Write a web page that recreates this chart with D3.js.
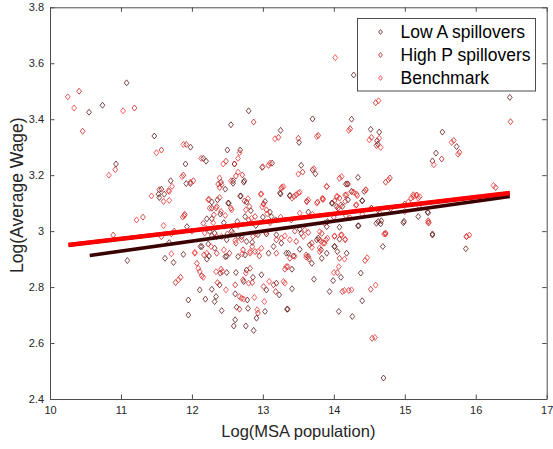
<!DOCTYPE html>
<html>
<head>
<meta charset="utf-8">
<script src="https://cdn.jsdelivr.net/npm/d3@7"></script>
<style>
  body { margin: 0; background: #fff; }
  svg { font-family: "Liberation Sans", Arial, sans-serif; }
  .tick text { font-size: 11px; fill: #262626; }
  .tick line, .domain { stroke: #4d4d4d; }
</style>
</head>
<body>
<div id="chart"></div>
<script>
// data: [log MSA population, log average wage]
var lowA = [
  [10.55,3.425],[10.74,3.45],[11.08,3.53],[10.93,3.24],[11.47,3.34],[11.57,3.15],[11.54,3.12],
  [11.70,3.18],[11.98,3.30],[11.91,3.24],[11.92,3.17],[11.98,3.17],[12.16,3.26],[12.20,3.25],
  [12.50,3.29],[12.55,3.38],[12.80,3.43],[12.60,3.24],[12.68,3.29],[12.58,3.18],[12.74,3.18],
  [12.99,3.228],[13.13,3.243],[13.25,3.36],[11.61,3.132],[11.53,3.132],[12.41,3.175],[12.47,3.15],
  [12.58,3.171],[12.73,3.175],[13.25,3.133],[13.03,3.106],[13.10,3.068],[12.77,3.104],[12.68,3.125],
  [12.83,3.073],[12.28,3.104],[12.36,3.112],[12.52,3.10],[12.40,3.061],[12.28,3.044],[12.21,3.044],
  [13.70,3.401],[14.25,3.40],[14.52,3.364],[14.64,3.354],[14.61,3.323],[14.62,3.311],[13.51,3.317],
  [15.53,3.354],[15.73,3.302],[15.44,3.279],[15.39,3.251],[13.54,3.235],[13.70,3.219],[13.74,3.205],
  [14.34,3.192],[14.17,3.168],[14.43,3.142],[14.25,3.142],[14.20,3.112],[13.38,3.128],[13.97,3.10],
  [14.04,3.088],[14.40,3.108],[15.32,3.068],[14.62,3.076],[14.67,3.037],[14.99,3.035],[13.64,3.068],
  [11.09,2.895],[11.62,2.903],[11.74,2.888],[11.88,2.917],[11.68,2.959],[12.12,2.945],[12.23,2.954],
  [12.32,2.939],[12.21,2.90],[12.24,2.911],[12.40,2.85],[12.11,2.79],[12.28,2.792],[12.19,2.757],
  [11.95,2.754],[11.95,2.70],[12.34,2.766],[12.32,2.748],[12.39,2.808],[12.42,2.716],[12.49,2.852],
  [12.47,2.909],[12.62,2.852],[12.61,2.776],[12.65,2.909],[12.75,2.915],[12.77,2.861],[12.73,2.82],
  [12.86,2.835],[12.79,2.724],[12.78,2.754],[12.63,2.728],[12.61,2.683],[12.59,2.661],[12.76,2.661],
  [12.87,2.645],[12.91,2.689],[13.03,2.713],[12.98,2.844],[13.05,2.79],[13.19,2.814],[13.23,2.772],
  [13.34,2.721],[13.26,2.957],[13.15,2.945],[11.93,3.016],[13.52,3.007],[13.54,2.992],[13.78,2.975],
  [14.08,2.971],[14.08,3.014],[14.35,3.019],[14.60,3.028],[14.66,3.026],[15.39,2.986],[14.69,2.945],
  [13.52,2.935],[13.66,2.951],[13.36,2.921],[13.43,2.911],[13.64,2.909],[13.69,2.885],[13.82,2.933],
  [13.83,2.903],[13.90,2.921],[14.01,2.945],[14.05,2.927],[14.18,2.921],[14.10,2.835],[13.99,2.823],
  [14.38,2.85],[13.41,2.864],[13.72,2.828],[13.41,2.794],[13.94,2.784],[14.40,2.751],[13.35,2.721],
  [14.07,2.713],[14.26,2.695],[14.70,2.475],[15.86,2.937],[16.48,3.478],[14.28,3.558],
  [12.56,3.00],[12.70,2.98],[12.90,3.02],[13.05,2.99],[13.18,3.04],[12.45,3.03],[12.85,2.96],[13.00,3.05],
  [12.28,3.082],[12.51,3.10],[12.69,3.126],[12.64,3.034],[12.75,3.052],[13.12,3.052],[13.24,3.136],
  [13.38,3.126],[13.91,3.034],[12.25,2.999],[12.32,2.993],[12.49,2.969],[12.65,2.981],[12.77,2.963],
  [12.93,2.987],[13.19,2.987],[13.76,2.969],[12.14,2.945],[12.49,2.91],[13.08,2.921],[13.33,2.921],
  [14.19,3.169],[13.98,3.10],[14.12,3.088],[14.40,3.109],[14.625,3.034],[14.34,3.019],[14.98,3.03],
  [15.19,3.052],[15.33,3.066],[15.39,2.99],[13.90,3.016],[14.01,2.945]
];

var highP = [
  [10.41,3.50],[10.46,3.357],[11.19,3.44],[10.92,3.22],[11.31,3.05],[11.57,3.29],[11.54,3.148],
  [11.67,3.145],[11.60,3.106],[11.92,3.31],[11.88,3.20],[12.02,3.18],[11.90,3.06],[12.48,3.25],
  [12.60,3.24],[12.87,3.39],[13.22,3.335],[13.08,3.235],[12.37,3.168],[12.39,3.156],[12.62,3.197],
  [12.71,3.201],[12.97,3.132],[13.05,3.076],[12.74,3.108],[12.81,3.088],[12.24,3.114],[12.39,3.12],
  [12.41,3.07],[12.55,3.082],[12.31,3.058],[14.59,3.459],[16.49,3.391],[14.23,3.366],[14.53,3.335],
  [14.60,3.306],[13.50,3.332],[13.78,3.342],[15.69,3.324],[15.77,3.282],[15.52,3.258],[13.56,3.211],
  [14.08,3.189],[14.20,3.168],[14.73,3.175],[14.79,3.19],[14.28,3.139],[14.33,3.127],[14.08,3.118],
  [14.16,3.106],[13.47,3.13],[13.62,3.106],[13.77,3.104],[14.01,3.108],[14.10,3.094],[15.12,3.13],
  [15.09,3.118],[15.00,3.097],[15.33,3.037],[14.17,3.055],[14.53,3.082],[16.28,3.156],[13.26,3.153],
  [10.89,2.986],[12.07,2.885],[12.11,2.855],[11.77,2.816],[11.84,2.835],[12.17,2.915],[12.14,2.84],
  [12.41,2.864],[12.36,2.816],[12.53,2.921],[12.61,2.808],[12.70,2.76],[12.62,2.957],[12.72,2.933],
  [12.82,2.867],[12.72,2.826],[12.85,2.816],[12.67,2.721],[12.93,2.707],[12.85,2.945],[12.95,2.911],
  [13.01,2.802],[13.15,2.808],[13.18,2.784],[13.31,2.864],[13.19,2.969],[13.19,2.921],[13.64,2.995],
  [13.83,2.992],[13.89,2.969],[14.01,2.983],[14.16,2.971],[15.33,3.03],[13.38,2.903],[13.65,2.90],
  [14.08,2.903],[14.05,2.852],[14.44,2.895],[13.35,2.873],[14.12,2.784],[14.21,2.788],[14.52,2.792],
  [14.54,2.617],[15.87,2.98],[14.71,2.99],[11.57,2.98],[11.75,3.00],[12.20,3.01],[12.50,2.99],
  [12.80,3.04],[13.10,3.03],[13.40,3.04],[14.00,3.05],[14.80,3.08],[15.20,3.09],[13.45,3.00],
  [11.89,3.055],[12.16,3.028],[12.35,3.088],[12.89,3.052],[13.01,3.097],[13.44,3.124],[13.62,3.106],
  [13.85,3.114],[12.28,2.983],[12.58,2.993],[12.86,2.981],[13.26,2.975],[13.47,2.963],[13.69,2.957],
  [13.87,2.957],[12.35,2.921],[12.89,2.927],[13.61,2.915],[13.90,3.159],[14.04,3.123],[14.16,3.129],
  [14.32,3.094],[14.53,3.082],[14.73,2.993],[15.17,3.129],[13.87,3.028],[14.11,2.987],[13.80,2.969]
];

var bench = [
  [10.25,3.48],[10.34,3.44],[11.03,3.43],[10.83,3.20],[11.22,3.04],[11.50,3.28],[11.43,3.126],
  [11.68,3.142],[11.72,3.16],[11.68,3.11],[11.88,3.31],[11.86,3.195],[11.98,3.175],[11.87,3.05],
  [12.13,3.26],[12.44,3.24],[12.65,3.26],[12.67,3.28],[13.17,3.33],[13.00,3.23],[12.39,3.19],
  [12.42,3.166],[12.55,3.18],[12.65,3.211],[13.27,3.157],[13.01,3.097],[12.99,3.087],[12.79,3.116],
  [12.76,3.076],[12.25,3.082],[12.34,3.082],[12.47,3.056],[12.56,3.076],[14.02,3.62],[14.63,3.466],
  [14.21,3.36],[14.50,3.326],[14.64,3.332],[14.66,3.299],[13.76,3.338],[15.66,3.317],[15.75,3.275],
  [15.41,3.237],[13.50,3.204],[13.72,3.223],[14.11,3.195],[13.90,3.16],[14.77,3.183],[14.45,3.148],
  [14.32,3.133],[14.05,3.124],[14.18,3.13],[13.41,3.118],[13.52,3.139],[13.64,3.112],[13.84,3.114],
  [14.06,3.082],[14.31,3.092],[15.16,3.128],[15.19,3.118],[15.05,3.104],[13.52,3.064],[14.23,3.047],
  [16.25,3.163],[13.10,3.243],[13.29,3.159],[11.71,2.919],[12.09,2.867],[12.04,2.921],[11.81,2.826],
  [12.27,2.945],[12.16,2.835],[12.34,2.855],[12.43,2.855],[12.48,2.79],[12.45,2.933],[12.67,2.766],
  [12.73,2.757],[12.61,2.966],[12.71,2.919],[12.76,2.85],[12.80,2.814],[12.88,2.763],[12.92,2.719],
  [12.82,2.927],[12.93,2.927],[12.98,2.939],[13.09,2.82],[13.02,2.748],[13.29,2.82],[13.33,2.873],
  [13.31,2.983],[13.59,3.004],[13.80,2.998],[13.82,2.963],[13.91,2.975],[14.10,2.986],[14.73,2.99],
  [13.69,2.942],[13.61,2.907],[14.15,2.90],[14.07,2.873],[14.00,2.852],[14.47,2.905],[13.31,2.814],
  [14.15,2.788],[14.25,2.79],[14.59,2.807],[14.58,2.62],[15.91,2.986],[11.71,2.99],[12.00,3.00],
  [12.35,2.98],[12.65,3.02],[12.90,2.99],[13.25,3.05],[13.70,3.06],[14.40,3.06],[15.00,3.07],
  [12.30,3.03],[11.60,3.02],
  [12.04,2.924],[12.23,3.112],[12.84,3.046],[12.98,3.133],[13.06,3.062],[13.50,3.136],[13.76,3.10],
  [12.18,2.993],[12.42,2.981],[12.70,2.969],[13.04,2.995],[13.38,2.969],[13.57,2.981],[13.80,2.94],
  [12.21,2.921],[12.82,2.921],[13.45,2.91],[13.80,2.927],[13.84,3.118],[14.06,3.082],[14.25,3.141],
  [14.45,3.147],[14.65,3.064],[15.12,3.123],[15.21,3.123],[15.34,3.03],[14.01,2.981],[14.16,2.969],
  [13.85,2.957],[15.87,2.981]
];

// fitted lines, endpoints
var fitLowA = [[10.56,2.913],[16.48,3.124]];
var fitHighP = [[10.26,2.950],[16.48,3.135]];
var fitBench = [[10.26,2.951],[16.48,3.137]];

var xTicks = [10, 11, 12, 13, 14, 15, 16, 17];
var yTicks = [2.4, 2.6, 2.8, 3, 3.2, 3.4, 3.6, 3.8];
var seriesNames = ["Low A spillovers", "High P spillovers", "Benchmark"];

var svgWidth = 553, svgHeight = 449;
var margin = {top: 7.3, right: 6.3, bottom: 50, left: 50};
var width = svgWidth - margin.left - margin.right;
var height = svgHeight - margin.top - margin.bottom;

var svg = d3.select("#chart").append("svg")
  .attr("width", svgWidth)
  .attr("height", svgHeight);
var chartGroup = svg.append("g")
  .attr("transform", `translate(${margin.left}, ${margin.top})`);

var x = d3.scaleLinear().domain([10, 17]).range([0, width]);
var y = d3.scaleLinear().domain([2.4, 3.8]).range([height, 0]);

// axes, ticks point inward like matlab
chartGroup.append("g")
  .attr("transform", `translate(0, ${height})`)
  .call(d3.axisBottom(x).tickValues(xTicks).tickFormat(d3.format("d"))
    .tickSizeInner(-4.5).tickSizeOuter(0).tickPadding(7));
chartGroup.append("g")
  .call(d3.axisLeft(y).tickValues(yTicks).tickFormat(d => d === 3 ? "3" : d3.format(".1f")(d))
    .tickSizeInner(-4.5).tickSizeOuter(0).tickPadding(6));
chartGroup.append("g")
  .call(d3.axisTop(x).tickValues(xTicks).tickFormat("").tickSizeInner(-4.5).tickSizeOuter(0));
chartGroup.append("g")
  .attr("transform", `translate(${width}, 0)`)
  .call(d3.axisRight(y).tickValues(yTicks).tickFormat("").tickSizeInner(-4.5).tickSizeOuter(0));

var diamond = "M0,-3L2.4,0L0,3L-2.4,0Z";
var colors = ["#5c1010", "#c41a1a", "#f03030"];

[lowA, highP, bench].forEach(function(set, i) {
  chartGroup.append("g").selectAll("path")
    .data(set)
    .enter()
    .append("path")
      .attr("d", diamond)
      .attr("transform", d => `translate(${x(d[0])}, ${y(d[1])})`)
      .attr("fill", "none")
      .attr("stroke", colors[i])
      .attr("stroke-width", 0.85)
      .attr("opacity", 0.9);
});

var line = d3.line().x(d => x(d[0])).y(d => y(d[1]));
chartGroup.append("path").datum(fitLowA)
  .attr("d", line).attr("stroke", "#3a0000").attr("stroke-width", 3.6).attr("fill", "none");
chartGroup.append("path").datum(fitHighP)
  .attr("d", line).attr("stroke", "#d00000").attr("stroke-width", 4.2).attr("fill", "none");
chartGroup.append("path").datum(fitBench)
  .attr("d", line).attr("stroke", "#ff0000").attr("stroke-width", 4).attr("fill", "none");

// legend
var legend = svg.append("g");
legend.append("rect")
  .attr("x", 357.5).attr("y", 18.5).attr("width", 178).attr("height", 72.5)
  .attr("fill", "#fff").attr("stroke", "#4d4d4d").attr("stroke-width", 1);
seriesNames.forEach(function(name, i) {
  var ly = 32 + i * 23;
  legend.append("path")
    .attr("d", "M0,-2.4L1.9,0L0,2.4L-1.9,0Z")
    .attr("transform", `translate(380.5, ${ly})`)
    .attr("fill", "none").attr("stroke", colors[i]).attr("stroke-width", 0.8);
  legend.append("text")
    .attr("x", 400.5).attr("y", ly + 6)
    .attr("font-size", "17.5px").attr("fill", "#000")
    .text(name);
});

// axis titles
svg.append("text")
  .attr("x", margin.left + width / 2).attr("y", 437)
  .attr("text-anchor", "middle").attr("font-size", "16.5px").attr("fill", "#262626")
  .text("Log(MSA population)");
svg.append("text")
  .attr("transform", `translate(23, ${margin.top + height / 2 - 8}) rotate(-90)`)
  .attr("text-anchor", "middle").attr("font-size", "17.5px").attr("fill", "#262626")
  .text("Log(Average Wage)");
</script>
</body>
</html>
